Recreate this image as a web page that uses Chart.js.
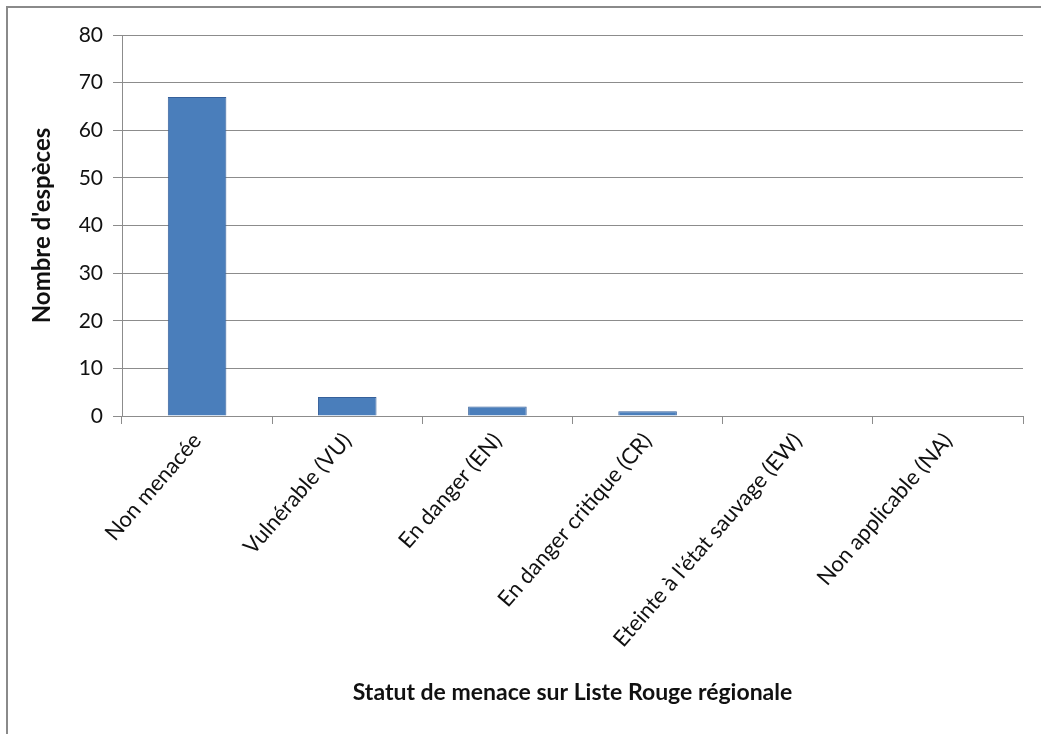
<!DOCTYPE html>
<html>
<head>
<meta charset="utf-8">
<script src="https://cdn.jsdelivr.net/npm/chart.js@4/dist/chart.umd.min.js"></script>
<style>
  html, body { margin: 0; padding: 0; background: #fff; }
  #frame {
    position: absolute; left: 6px; top: 6px;
    width: 1035px; height: 728px;
    border-left: 2px solid #8a8a8a; border-top: 2px solid #8a8a8a;
  }
  #wrap { position: absolute; left: 0; top: 0; width: 1033px; height: 726px; }
</style>
</head>
<body>
<div id="frame"><div id="wrap"><canvas id="statusChart"></canvas></div></div>
<script>
// Nombre d'espèces par statut Liste Rouge régionale
const statusLabels = ['Non menacée', 'Vulnérable (VU)', 'En danger (EN)', 'En danger critique (CR)', "Eteinte à l'état sauvage (EW)", 'Non applicable (NA)'];
const speciesCounts = [67, 4, 2, 1, 0, 0];
const yTicks = [0, 10, 20, 30, 40, 50, 60, 70, 80];

const gridGray = '#8c8c8c';
const font = 'Lato, "Open Sans", sans-serif';

new Chart(document.getElementById('statusChart'), {
  type: 'bar',
  data: {
    labels: statusLabels,
    datasets: [{
      data: speciesCounts,
      backgroundColor: '#4a7ebb',
      borderColor: '#36609a',
      borderWidth: 1,
      barPercentage: 1,
      categoryPercentage: 0.39
    }]
  },
  options: {
    responsive: true,
    maintainAspectRatio: false,
    animation: false,
    layout: { padding: { left: 16, top: 27, right: 18, bottom: 24 } },
    plugins: { legend: { display: false }, tooltip: { enabled: false } },
    scales: {
      x: {
        afterFit: s => { s.height = 294; },
        grid: { drawOnChartArea: false, offset: true, tickLength: 8, color: gridGray },
        border: { color: gridGray },
        ticks: { color: '#111', minRotation: 49, maxRotation: 49, padding: 4, font: { family: font, size: 22 } },
        title: { display: true, text: 'Statut de menace sur Liste Rouge régionale', color: '#111', font: { family: font, size: 23, weight: 'bold' } }
      },
      y: {
        min: 0, max: 80,
        afterFit: s => { s.width = 98; },
        afterBuildTicks: s => { s.ticks = yTicks.map(v => ({ value: v })); },
        grid: { color: gridGray, tickLength: 9 },
        border: { color: gridGray },
        ticks: { color: '#111', padding: 10, font: { family: font, size: 21 } },
        title: { display: true, text: "Nombre d'espèces", color: '#111', font: { family: font, size: 24, weight: 'bold' } }
      }
    }
  }
});
</script>
</body>
</html>
